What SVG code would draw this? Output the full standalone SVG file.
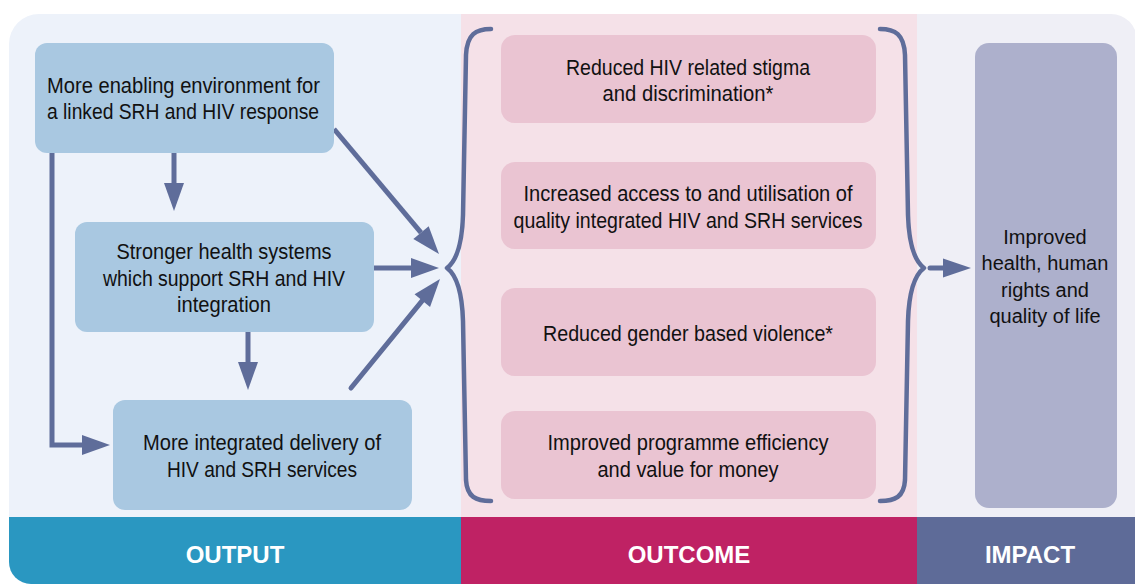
<svg xmlns="http://www.w3.org/2000/svg" width="1135" height="584" viewBox="0 0 1135 584">
<defs>
<clipPath id="outer"><path d="M9,44 A30,30 0 0 1 39,14 H1111 A26,26 0 0 1 1137,40 V584 H31 A22,22 0 0 1 9,562 Z"/></clipPath>
<marker id="ah" markerUnits="userSpaceOnUse" markerWidth="28" markerHeight="20" refX="0" refY="10" orient="auto" overflow="visible"><path d="M0,0 L28,10 L0,20 Z" fill="#5F6D9A"/></marker>
<marker id="ah2" markerUnits="userSpaceOnUse" markerWidth="28" markerHeight="19" refX="0" refY="9.5" orient="auto" overflow="visible"><path d="M0,0 L28,9.5 L0,19 Z" fill="#5F6D9A"/></marker>
</defs>
<style>
.out{fill:#A9C8E1}
.oc{fill:#EAC4D2}
.im{fill:#ADB0CC}
.t{font-family:"Liberation Sans Narrow","Liberation Sans",Arial,sans-serif;font-size:22px;fill:#111}
.ti{font-family:"Liberation Sans",Arial,sans-serif;font-size:20px;fill:#111;text-anchor:middle}
.c{text-anchor:middle}
.bar{font-family:"Liberation Sans",Arial,sans-serif;font-size:24px;font-weight:bold;fill:#fff;text-anchor:middle}
.ar{fill:none;stroke:#5F6D9A;stroke-width:5}
.br{fill:none;stroke:#5F6D9A;stroke-width:4.5;stroke-linecap:round;stroke-linejoin:round}
</style>
<g clip-path="url(#outer)">
<rect x="0" y="0" width="461" height="584" fill="#EDF2FA"/>
<rect x="461" y="0" width="456" height="584" fill="#F5E1E8"/>
<rect x="917" y="0" width="230" height="584" fill="#EFEFF6"/>
<rect x="0" y="517" width="461" height="70" fill="#2A97C1"/>
<rect x="461" y="517" width="456" height="70" fill="#BF2264"/>
<rect x="917" y="517" width="230" height="70" fill="#5E6B98"/>
</g>
<text class="bar" x="235" y="563">OUTPUT</text>
<text class="bar" x="689" y="563">OUTCOME</text>
<text class="bar" x="1030" y="563">IMPACT</text>

<g id="connectors">
<line class="ar" x1="174" y1="153" x2="174" y2="183" marker-end="url(#ah)"/>
<line class="ar" x1="248" y1="332" x2="248" y2="362" marker-end="url(#ah)"/>
<path class="ar" d="M52,153 V445 H82" marker-end="url(#ah)"/>
<line class="ar" x1="334" y1="129" x2="421" y2="232.6" marker-end="url(#ah)"/>
<line class="ar" x1="374" y1="268" x2="411" y2="268" marker-end="url(#ah)"/>
<line class="ar" x1="351" y1="388" x2="422.3" y2="300.7" stroke-linecap="round" marker-end="url(#ah)"/>
<line class="ar" x1="930" y1="268" x2="943" y2="268" stroke-linecap="round" marker-end="url(#ah2)"/>
<path class="br" d="M491,29 C476,29 467,34 466,55 L463,215 C462,248 455,262 447,268 C455,274 462,288 463,321 L466,480 C467,497 476,501 491,501"/>
<path class="br" d="M880,29 C895,29 904,34 905,55 L908,215 C909,248 916,262 924,268 C916,274 909,288 908,321 L905,480 C904,497 895,501 880,501"/>
</g>

<g id="node-enabling">
<rect class="out" x="35" y="43" width="299" height="110" rx="12"/>
<text class="t" x="47" y="93" textLength="273" lengthAdjust="spacingAndGlyphs">More enabling environment for</text>
<text class="t" x="47" y="119" textLength="272" lengthAdjust="spacingAndGlyphs">a linked SRH and HIV response</text>
</g>
<g id="node-systems">
<rect class="out" x="75" y="222" width="299" height="110" rx="12"/>
<text class="t c" x="224" y="259" textLength="215" lengthAdjust="spacingAndGlyphs">Stronger health systems</text>
<text class="t c" x="224" y="286" textLength="242" lengthAdjust="spacingAndGlyphs">which support SRH and HIV</text>
<text class="t c" x="224" y="312" textLength="94" lengthAdjust="spacingAndGlyphs">integration</text>
</g>
<g id="node-delivery">
<rect class="out" x="113" y="400" width="299" height="110" rx="12"/>
<text class="t c" x="262" y="450" textLength="238" lengthAdjust="spacingAndGlyphs">More integrated delivery of</text>
<text class="t c" x="262" y="477" textLength="190" lengthAdjust="spacingAndGlyphs">HIV and SRH services</text>
</g>

<g id="node-stigma">
<rect class="oc" x="501" y="35" width="375" height="88" rx="14"/>
<text class="t c" x="688" y="75" textLength="244" lengthAdjust="spacingAndGlyphs">Reduced HIV related stigma</text>
<text class="t c" x="688" y="101" textLength="171" lengthAdjust="spacingAndGlyphs">and discrimination*</text>
</g>
<g id="node-access">
<rect class="oc" x="501" y="162" width="375" height="87" rx="14"/>
<text class="t c" x="688" y="201" textLength="329" lengthAdjust="spacingAndGlyphs">Increased access to and utilisation of</text>
<text class="t c" x="688" y="228" textLength="349" lengthAdjust="spacingAndGlyphs">quality integrated HIV and SRH services</text>
</g>
<g id="node-gbv">
<rect class="oc" x="501" y="288" width="375" height="88" rx="14"/>
<text class="t c" x="688" y="341" textLength="290" lengthAdjust="spacingAndGlyphs">Reduced gender based violence*</text>
</g>
<g id="node-efficiency">
<rect class="oc" x="501" y="411" width="375" height="88" rx="14"/>
<text class="t c" x="688" y="450" textLength="281" lengthAdjust="spacingAndGlyphs">Improved programme efficiency</text>
<text class="t c" x="688" y="477" textLength="181" lengthAdjust="spacingAndGlyphs">and value for money</text>
</g>

<g id="node-impact">
<rect class="im" x="975" y="43" width="142" height="465" rx="14"/>
<text class="ti" x="1045" y="244">Improved</text>
<text class="ti" x="1045" y="270">health, human</text>
<text class="ti" x="1045" y="297">rights and</text>
<text class="ti" x="1045" y="323">quality of life</text>
</g>
</svg>
